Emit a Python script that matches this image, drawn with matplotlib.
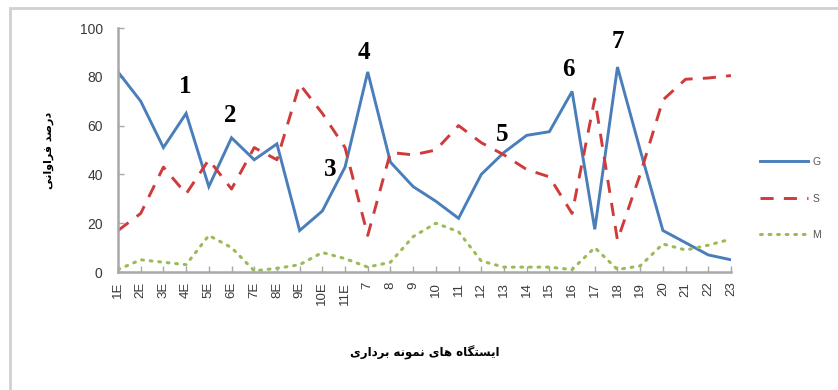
import matplotlib
matplotlib.use("Agg")
import matplotlib.pyplot as plt
from matplotlib.patches import Rectangle

# ---------------- data ----------------
stations = ["1E", "2E", "3E", "4E", "5E", "6E", "7E", "8E", "9E", "10E", "11E",
            "7", "8", "9", "10", "11", "12", "13", "14", "15", "16", "17",
            "18", "19", "20", "21", "22", "23"]

g_values = [82, 70, 51, 65, 35, 55, 46, 52.5, 17, 25, 43,
            82, 45, 35, 29, 22, 40, 49, 56, 57.5, 74, 17.5,
            84, 50, 17, 12, 7, 5]

s_values = [17, 24, 43, 32, 46, 34, 51, 46, 77, 65, 51,
            15, 49, 48, 50, 60, 53, 48, 42, 39, 24, 71,
            13, 40, 70.5, 79, 79.5, 80.5]

m_values = [1, 5, 4, 3, 15, 10, 0.5, 1.5, 3, 8, 5.5,
            2, 4, 14.5, 20, 16.5, 4.5, 2, 2, 2, 1, 10,
            1, 2.5, 11.5, 9, 11, 13.5]

series_names = ["G", "S", "M"]
marker_labels = ["1", "2", "3", "4", "5", "6", "7"]
marker_pos = [(2.95, 76), (4.93, 64), (9.34, 42), (10.85, 90),
              (16.9, 56.5), (19.82, 83), (22.0, 94.5)]

x_title = "ایستگاه های نمونه برداری"
y_title = "درصد فراوانی"

# ------------- simple Persian shaping (matplotlib has no text shaping) -------------
# forms: (isolated, final, initial, medial); right-joining letters have no initial/medial
FORMS = {
    "\u0627": ("\uFE8D", "\uFE8E", None, None),
    "\u0628": ("\uFE8F", "\uFE90", "\uFE91", "\uFE92"),
    "\u062A": ("\uFE95", "\uFE96", "\uFE97", "\uFE98"),
    "\u062F": ("\uFEA9", "\uFEAA", None, None),
    "\u0631": ("\uFEAD", "\uFEAE", None, None),
    "\u0633": ("\uFEB1", "\uFEB2", "\uFEB3", "\uFEB4"),
    "\u0635": ("\uFEB9", "\uFEBA", "\uFEBB", "\uFEBC"),
    "\u0641": ("\uFED1", "\uFED2", "\uFED3", "\uFED4"),
    "\u0644": ("\uFEDD", "\uFEDE", "\uFEDF", "\uFEE0"),
    "\u0645": ("\uFEE1", "\uFEE2", "\uFEE3", "\uFEE4"),
    "\u0646": ("\uFEE5", "\uFEE6", "\uFEE7", "\uFEE8"),
    "\u0647": ("\uFEE9", "\uFEEA", "\uFEEB", "\uFEEC"),
    "\u0648": ("\uFEED", "\uFEEE", None, None),
    "\u06CC": ("\uFBFC", "\uFBFD", "\uFBFE", "\uFBFF"),
    "\u06AF": ("\uFB92", "\uFB93", "\uFB94", "\uFB95"),
    "\u06A9": ("\uFB8E", "\uFB8F", "\uFB90", "\uFB91"),
}


def joins_forward(ch):
    return ch in FORMS and FORMS[ch][2] is not None


def shape_rtl(text):
    out = []
    for i, ch in enumerate(text):
        if ch not in FORMS:
            out.append(ch)
            continue
        prev = text[i - 1] if i > 0 else ""
        nxt = text[i + 1] if i + 1 < len(text) else ""
        link_prev = joins_forward(prev)
        link_next = joins_forward(ch) and nxt in FORMS
        iso, fin, ini, med = FORMS[ch]
        if link_prev and link_next:
            out.append(med)
        elif link_prev:
            out.append(fin)
        elif link_next:
            out.append(ini)
        else:
            out.append(iso)
    return "".join(reversed(out))


# ---------------- figure ----------------
W, H = 838, 390
fig = plt.figure(figsize=(W / 100, H / 100), dpi=100)
fig.patch.set_facecolor("white")

# outer chart border (only its top and left edges fall inside the canvas)
fig.add_artist(Rectangle((10 / W, -0.2), 1.0, 1.2 - 8 / H, transform=fig.transFigure,
                         fill=False, edgecolor="#d0d0d0", linewidth=2.0))

ax = fig.add_axes([118 / W, (H - 272) / H, (731 - 118) / W, (272 - 28) / H])
x = list(range(len(stations)))

ax.plot(x, g_values, color="#4a7ebb", lw=2.1, label=series_names[0], solid_joinstyle="miter")
ax.plot(x, s_values, color="#cf3b3b", lw=2.1, dashes=(4.5, 3.5), label=series_names[1])
ax.plot(x, m_values, color="#9bbb59", lw=2.2, linestyle=(0, (0.6, 2.2)),
        dash_capstyle="round", label=series_names[2])

ax.set_xlim(0, len(stations) - 1)
ax.set_ylim(0, 100)
ax.set_yticks(range(0, 101, 20))
ax.set_xticks(x)
ax.set_xticklabels(stations, rotation=90, family="Liberation Sans", fontsize=9.5,
                   color="#3a3a3a")
for lbl in ax.get_yticklabels():
    lbl.set_family("Liberation Sans")
    lbl.set_fontsize(10)
    lbl.set_color("#3a3a3a")

for side in ("top", "right"):
    ax.spines[side].set_visible(False)
for side in ("left", "bottom"):
    ax.spines[side].set_color("#a8a8a8")
    ax.spines[side].set_linewidth(1.8)
ax.tick_params(axis="both", direction="in", length=4, width=1, color="#a8a8a8")
ax.tick_params(axis="y", pad=11)
ax.tick_params(axis="x", pad=7)
ax.set_facecolor("white")

for txt, (px, py) in zip(marker_labels, marker_pos):
    ax.text(px, py, txt, family="Liberation Serif", fontweight="bold", fontsize=18,
            ha="center", va="center", color="black")

leg = ax.legend(loc="upper left", bbox_to_anchor=(760 / W, 1 - 157 / H),
                bbox_transform=fig.transFigure, frameon=False, borderpad=0,
                borderaxespad=0, handlelength=4.6, handletextpad=0.4,
                labelspacing=2.55, prop={"family": "Liberation Sans", "size": 7.5})
for t in leg.get_texts():
    t.set_color("#555555")

fig.text((118 + 731) / 2 / W, 1 - 353 / H, shape_rtl(x_title), family="DejaVu Sans",
         fontweight="bold", fontsize=8.5, ha="center", va="center")
fig.text(49 / W, 1 - 150 / H, shape_rtl(y_title), family="DejaVu Sans",
         fontweight="bold", fontsize=8, ha="center", va="center", rotation=90)

fig.savefig("out.png", dpi=100)
